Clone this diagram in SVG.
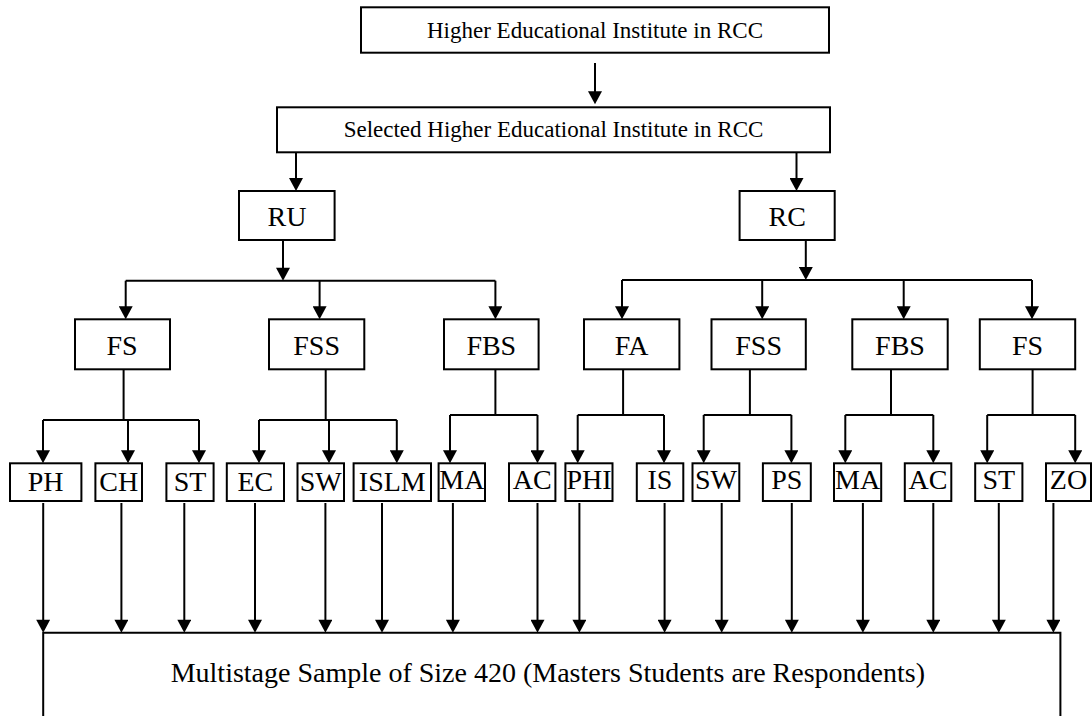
<svg xmlns="http://www.w3.org/2000/svg" width="1092" height="716" viewBox="0 0 1092 716">
<style>
.b{fill:#fff;stroke:#000;stroke-width:2}
.t{font-family:"Liberation Serif","Times New Roman",serif;font-size:28px;fill:#000;text-anchor:middle}
.ts{font-family:"Liberation Serif","Times New Roman",serif;font-size:23px;fill:#000;text-anchor:middle}
.c line{stroke:#000;stroke-width:2}
.c line.a{marker-end:url(#ah)}
</style>
<defs>
<marker id="ah" markerUnits="userSpaceOnUse" markerWidth="14" markerHeight="14" refX="10" refY="7" orient="auto" viewBox="0 0 13 14">
<path d="M0,0 L13,7 L0,14 z" fill="#000"/>
</marker>
</defs>
<rect width="1092" height="716" fill="#fff"/>
<g class="c" id="connectors">
<line class="a" x1="595" y1="63" x2="595" y2="101.3"/>
<line class="a" x1="296" y1="152" x2="296" y2="188"/>
<line class="a" x1="796.5" y1="152" x2="796.5" y2="188"/>
<line class="a" x1="283" y1="240" x2="283" y2="277.7"/>
<line x1="125.7" y1="280.7" x2="495.4" y2="280.7"/>
<line class="a" x1="125.7" y1="280.7" x2="125.7" y2="316.3"/>
<line class="a" x1="319.6" y1="280.7" x2="319.6" y2="316.3"/>
<line class="a" x1="495.4" y1="280.7" x2="495.4" y2="316.3"/>
<line class="a" x1="805.8" y1="240" x2="805.8" y2="277"/>
<line x1="622" y1="280" x2="1032" y2="280"/>
<line class="a" x1="622" y1="280" x2="622" y2="316.3"/>
<line class="a" x1="762.2" y1="280" x2="762.2" y2="316.3"/>
<line class="a" x1="903.7" y1="280" x2="903.7" y2="316.3"/>
<line class="a" x1="1032" y1="280" x2="1032" y2="316.3"/>
<line x1="123.6" y1="369.3" x2="123.6" y2="420"/>
<line x1="43" y1="420" x2="199" y2="420"/>
<line class="a" x1="43" y1="420" x2="43" y2="460.3"/>
<line class="a" x1="128" y1="420" x2="128" y2="460.3"/>
<line class="a" x1="199" y1="420" x2="199" y2="460.3"/>
<line x1="325.7" y1="369.3" x2="325.7" y2="420"/>
<line x1="259" y1="420" x2="396.8" y2="420"/>
<line class="a" x1="259" y1="420" x2="259" y2="460.3"/>
<line class="a" x1="329" y1="420" x2="329" y2="460.3"/>
<line class="a" x1="396.8" y1="420" x2="396.8" y2="460.3"/>
<line x1="495.4" y1="369.3" x2="495.4" y2="415"/>
<line x1="450" y1="415" x2="537.5" y2="415"/>
<line class="a" x1="450" y1="415" x2="450" y2="460.3"/>
<line class="a" x1="537.5" y1="415" x2="537.5" y2="460.3"/>
<line x1="623.1" y1="369.3" x2="623.1" y2="415"/>
<line x1="577.7" y1="415" x2="664" y2="415"/>
<line class="a" x1="577.7" y1="415" x2="577.7" y2="460.3"/>
<line class="a" x1="664" y1="415" x2="664" y2="460.3"/>
<line x1="749.9" y1="369.3" x2="749.9" y2="415"/>
<line x1="703.7" y1="415" x2="791.4" y2="415"/>
<line class="a" x1="703.7" y1="415" x2="703.7" y2="460.3"/>
<line class="a" x1="791.4" y1="415" x2="791.4" y2="460.3"/>
<line x1="891" y1="369.3" x2="891" y2="415"/>
<line x1="845.3" y1="415" x2="933.3" y2="415"/>
<line class="a" x1="845.3" y1="415" x2="845.3" y2="460.3"/>
<line class="a" x1="933.3" y1="415" x2="933.3" y2="460.3"/>
<line x1="1032.6" y1="369.3" x2="1032.6" y2="415"/>
<line x1="987.2" y1="415" x2="1075.2" y2="415"/>
<line class="a" x1="987.2" y1="415" x2="987.2" y2="460.3"/>
<line class="a" x1="1075.2" y1="415" x2="1075.2" y2="460.3"/>
<line class="a" x1="43.2" y1="503" x2="43.2" y2="629.7"/>
<line class="a" x1="121.4" y1="503" x2="121.4" y2="629.7"/>
<line class="a" x1="184.3" y1="503" x2="184.3" y2="629.7"/>
<line class="a" x1="255" y1="503" x2="255" y2="629.7"/>
<line class="a" x1="325.4" y1="503" x2="325.4" y2="629.7"/>
<line class="a" x1="382" y1="503" x2="382" y2="629.7"/>
<line class="a" x1="452.9" y1="503" x2="452.9" y2="629.7"/>
<line class="a" x1="537.5" y1="503" x2="537.5" y2="629.7"/>
<line class="a" x1="579.4" y1="503" x2="579.4" y2="629.7"/>
<line class="a" x1="664.6" y1="503" x2="664.6" y2="629.7"/>
<line class="a" x1="721.7" y1="503" x2="721.7" y2="629.7"/>
<line class="a" x1="791.8" y1="503" x2="791.8" y2="629.7"/>
<line class="a" x1="862.9" y1="503" x2="862.9" y2="629.7"/>
<line class="a" x1="933.3" y1="503" x2="933.3" y2="629.7"/>
<line class="a" x1="998.8" y1="503" x2="998.8" y2="629.7"/>
<line class="a" x1="1053.4" y1="503" x2="1053.4" y2="629.7"/>
</g>
<g id="n-top"><rect class="b" x="361" y="7.3" width="468" height="45.4"/><text class="ts" x="595" y="37.7">Higher Educational Institute in RCC</text></g>
<g id="n-sel"><rect class="b" x="277" y="107.3" width="553" height="45"/><text class="ts" x="553.5" y="137">Selected Higher Educational Institute in RCC</text></g>
<g id="n-ru"><rect class="b" x="239" y="191" width="95.6" height="49"/><text class="t" x="287" y="225.7">RU</text></g>
<g id="n-rc"><rect class="b" x="739.6" y="191" width="95.1" height="49"/><text class="t" x="787.2" y="225.7">RC</text></g>
<g id="n-fs1"><rect class="b" x="75" y="319.3" width="95" height="50"/><text class="t" x="122" y="355">FS</text></g>
<g id="n-fss1"><rect class="b" x="269" y="319.3" width="95.3" height="50"/><text class="t" x="316.6" y="355">FSS</text></g>
<g id="n-fbs1"><rect class="b" x="444" y="319.3" width="94.6" height="50"/><text class="t" x="491.3" y="355">FBS</text></g>
<g id="n-fa"><rect class="b" x="584" y="319.3" width="95.4" height="50"/><text class="t" x="631.7" y="355">FA</text></g>
<g id="n-fss2"><rect class="b" x="711.5" y="319.3" width="94.3" height="50"/><text class="t" x="758.6" y="355">FSS</text></g>
<g id="n-fbs2"><rect class="b" x="852.3" y="319.3" width="95.4" height="50"/><text class="t" x="900" y="355">FBS</text></g>
<g id="n-fs2"><rect class="b" x="979.8" y="319.3" width="95.4" height="50"/><text class="t" x="1027.5" y="355">FS</text></g>
<g id="n-ph"><rect class="b" x="10" y="463.3" width="71.4" height="37.7"/><text class="t" x="45.7" y="491">PH</text></g>
<g id="n-ch"><rect class="b" x="95.4" y="463.3" width="46.6" height="37.7"/><text class="t" x="118.7" y="491">CH</text></g>
<g id="n-st1"><rect class="b" x="166.4" y="463.3" width="47.2" height="37.7"/><text class="t" x="190" y="491">ST</text></g>
<g id="n-ec"><rect class="b" x="226.8" y="463.3" width="57.2" height="37.7"/><text class="t" x="255.4" y="491">EC</text></g>
<g id="n-sw1"><rect class="b" x="297.5" y="463.3" width="46.5" height="37.7"/><text class="t" x="320.8" y="491">SW</text></g>
<g id="n-islm"><rect class="b" x="353.6" y="463.3" width="77.4" height="37.7"/><text class="t" x="392.3" y="491">ISLM</text></g>
<g id="n-ma1"><rect class="b" x="438.6" y="463.3" width="46.4" height="37.7"/><text class="t" x="461.8" y="488.5">MA</text></g>
<g id="n-ac1"><rect class="b" x="509" y="463.3" width="46.4" height="37.7"/><text class="t" x="532.2" y="488.5">AC</text></g>
<g id="n-phi"><rect class="b" x="565.4" y="463.3" width="47.1" height="37.7"/><text class="t" x="589" y="488.5">PHI</text></g>
<g id="n-is"><rect class="b" x="636.8" y="463.3" width="46.5" height="37.7"/><text class="t" x="660" y="488.5">IS</text></g>
<g id="n-sw2"><rect class="b" x="692.5" y="463.3" width="46.8" height="37.7"/><text class="t" x="715.9" y="488.5">SW</text></g>
<g id="n-ps"><rect class="b" x="762.9" y="463.3" width="47.9" height="37.7"/><text class="t" x="786.8" y="488.5">PS</text></g>
<g id="n-ma2"><rect class="b" x="834" y="463.3" width="47.2" height="37.7"/><text class="t" x="857.6" y="488.5">MA</text></g>
<g id="n-ac2"><rect class="b" x="904.8" y="463.3" width="46.5" height="37.7"/><text class="t" x="928" y="488.5">AC</text></g>
<g id="n-st2"><rect class="b" x="975.2" y="463.3" width="47.2" height="37.7"/><text class="t" x="998.8" y="488.5">ST</text></g>
<g id="n-zo"><rect class="b" x="1046" y="463.3" width="45" height="37.7"/><text class="t" x="1068.5" y="488.5">ZO</text></g>
<g id="n-sample"><path d="M43.2,720 V632.7 H1060.4 V720" fill="none" stroke="#000" stroke-width="2"/><text class="t" x="170.7" y="682" style="text-anchor:start">Multistage Sample of Size 420 (Masters Students are Respondents)</text></g>
</svg>
